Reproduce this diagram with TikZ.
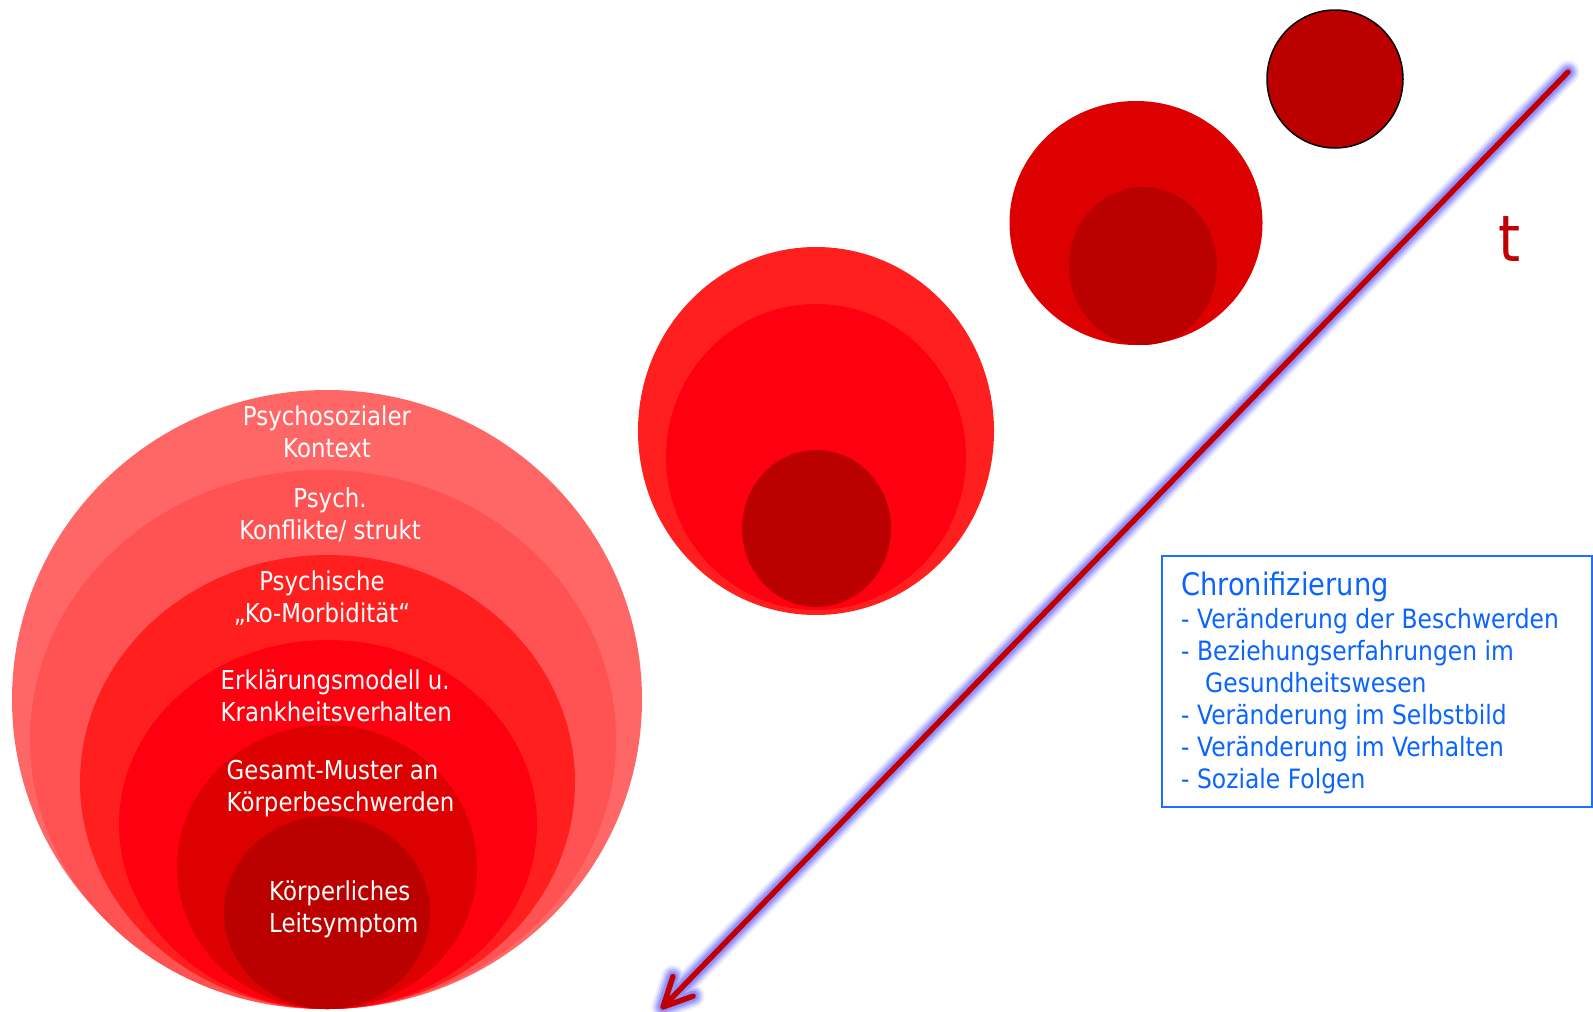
\documentclass[tikz,border=0pt]{standalone}
\usepackage{fontspec}
\setmainfont{DejaVu Sans}[FakeStretch=0.88]
\usetikzlibrary{arrows.meta,calc}
\definecolor{cA}{HTML}{FF6666}
\definecolor{cB}{HTML}{FF5252}
\definecolor{cC}{HTML}{FF1F1F}
\definecolor{cD}{HTML}{FF0010}
\definecolor{cE}{HTML}{DD0000}
\definecolor{cF}{HTML}{BB0000}
\definecolor{arrowred}{HTML}{C00000}
\definecolor{glowblue}{HTML}{6A6AFF}
\definecolor{boxblue}{HTML}{1F6FFF}
\definecolor{textblue}{HTML}{0A64FF}
\tikzset{
  lbl/.style={text=white, font=\fontsize{26}{32}\selectfont, inner sep=0pt},
  lblc/.style={lbl, align=center, anchor=base},
  lbll/.style={lbl, align=left, anchor=base west},
  glowline/.style={glowblue, line cap=round, line join=round},
  redline/.style={arrowred, line width=5.5pt, line cap=round, line join=round},
  chbox/.style={draw=boxblue, line width=2pt, inner sep=0pt},
  chtext/.style={text=textblue, inner sep=0pt, align=left, anchor=base west}
}
\begin{document}
\begin{tikzpicture}[x=1pt,y=-1pt]
\useasboundingbox (0,0) rectangle (1593,1012);
% left group
\fill[cA] (327,699.5) ellipse [x radius=315pt, y radius=309.5pt];
\fill[cB] (323,739.5) ellipse [x radius=293pt, y radius=269.5pt];
\fill[cC] (327.5,782) ellipse [x radius=247.5pt, y radius=227pt];
\fill[cD] (328,824.5) ellipse [x radius=209pt, y radius=184.5pt];
\fill[cE] (327,867) ellipse [x radius=150pt, y radius=142pt];
\fill[cF] (327,912.5) ellipse [x radius=103pt, y radius=96.5pt];
% middle group
\fill[cC] (816,431) ellipse [x radius=178pt, y radius=184pt];
\fill[cD] (816,457) ellipse [x radius=150pt, y radius=153pt];
\fill[cF] (816.5,528.5) ellipse [x radius=74.5pt, y radius=78.5pt];
% upper group
\fill[cE] (1136,223) ellipse [x radius=126.5pt, y radius=122pt];
\fill[cF] (1143,266) ellipse [x radius=74pt, y radius=79pt];
% top circle
\filldraw[fill=cF, draw=black, line width=1.5pt] (1335,79) ellipse [x radius=68pt, y radius=69pt];

% labels (anchor = baseline of last line)
\node[lblc] (l1) at (327,457) {Psychosozialer\\Kontext};
\node[lblc] (l2) at (330,539) {Psych.\\Konflikte/ strukt};
\node[lblc] (l3) at (322,622) {Psychische\\„Ko-Morbidität“};
\node[lbll] (l4) at (220.5,721) {Erklärungsmodell u.\\Krankheitsverhalten};
\node[lbll] (l5) at (226.5,811) {Gesamt-Muster an\\Körperbeschwerden};
\node[lbll] (l6) at (269,932) {Körperliches\\Leitsymptom};

% time arrow
\coordinate (tS) at (1568,72);
\coordinate (tE) at (663,1007);
\coordinate (b1) at ($(tE)!32pt!26:(tS)$);
\coordinate (b2) at ($(tE)!32pt!-26:(tS)$);
\draw[glowline, line width=23pt, opacity=0.12] (tS) -- (tE) (b1) -- (tE) -- (b2);
\draw[glowline, line width=19pt, opacity=0.20] (tS) -- (tE) (b1) -- (tE) -- (b2);
\draw[glowline, line width=15pt, opacity=0.30] (tS) -- (tE) (b1) -- (tE) -- (b2);
\draw[glowline, line width=11pt, opacity=0.45] (tS) -- (tE) (b1) -- (tE) -- (b2);
\draw[redline] (tS) -- (tE) (b1) -- (tE) -- (b2);
\node[text=arrowred, font=\fontsize{64}{64}\selectfont, inner sep=0pt, anchor=base] (t) at (1510,261) {t};

% Chronifizierung box
\node[chbox, minimum width=430pt, minimum height=251pt, anchor=north west] (box) at (1161,555) {};
\node[chtext, font=\fontsize{31}{33}\selectfont] (chtitle) at (1181,595) {Chronifizierung};
\node[chtext, font=\fontsize{26.6}{32}\selectfont] (chlist) at (1181,788) {- Veränderung der Beschwerden\\- Beziehungserfahrungen im\\\hspace*{24pt}Gesundheitswesen\\- Veränderung im Selbstbild\\- Veränderung im Verhalten\\- Soziale Folgen};
\end{tikzpicture}
\end{document}
